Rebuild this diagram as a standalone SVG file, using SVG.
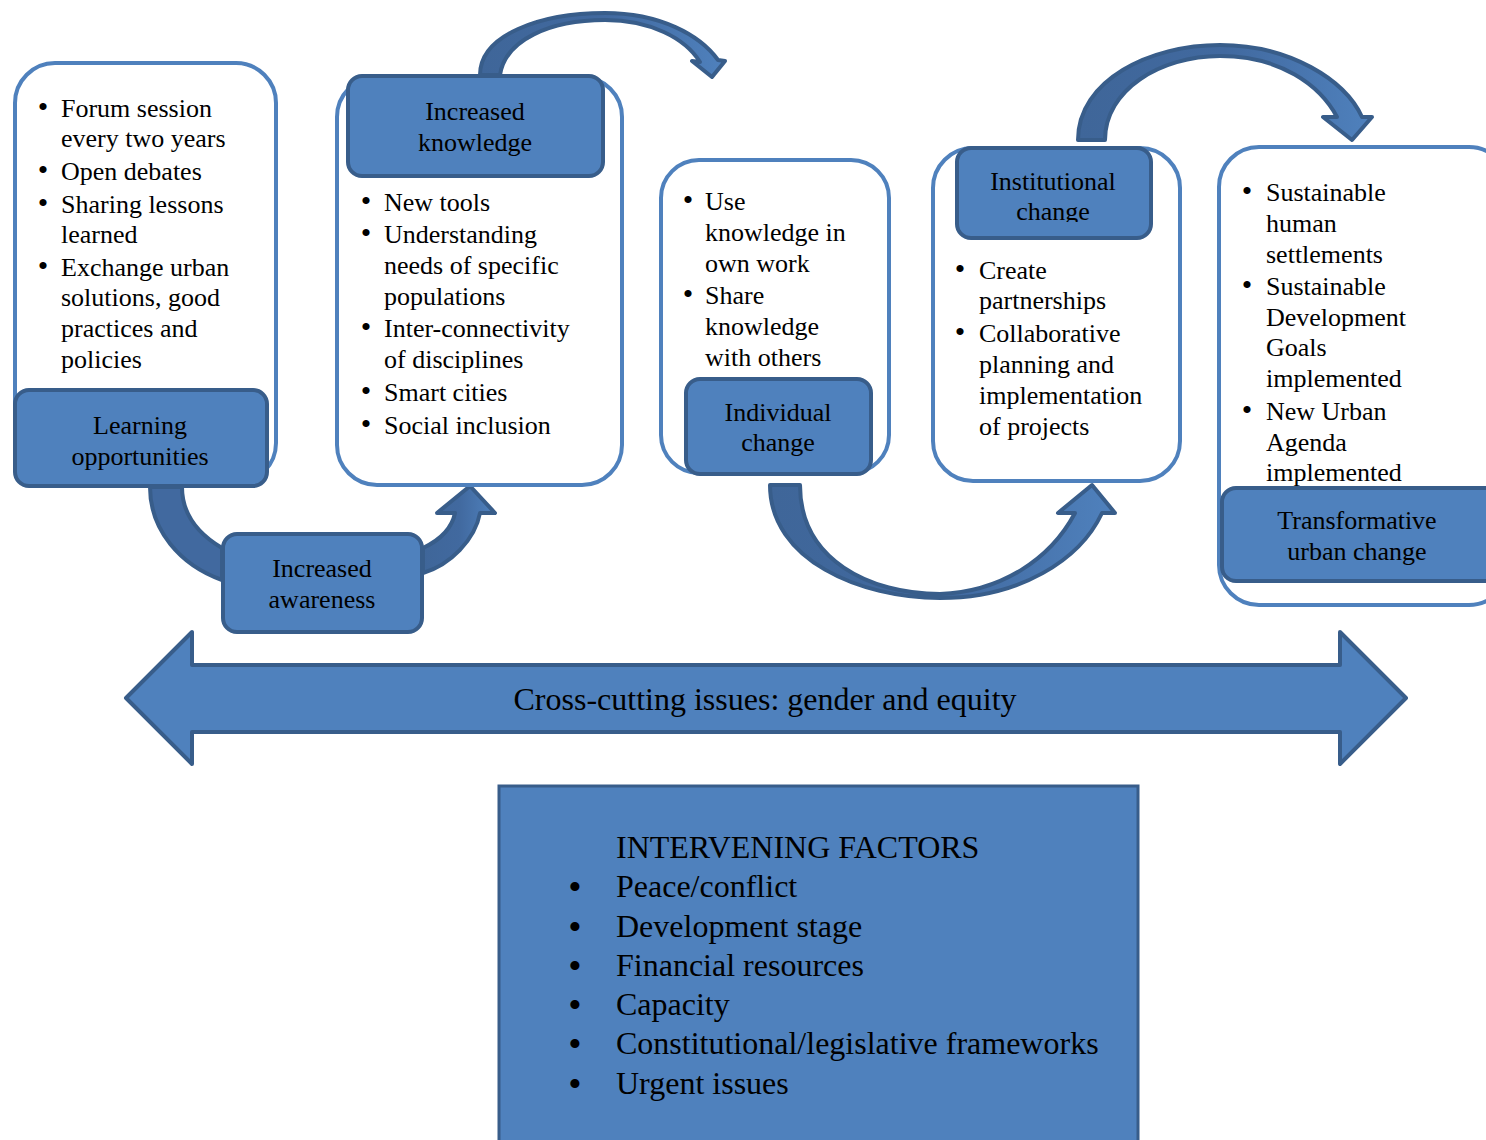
<svg xmlns="http://www.w3.org/2000/svg" width="1486" height="1140" viewBox="0 0 1486 1140">
<style>
.wb{fill:#fff;stroke:#4F81BD;stroke-width:4}
.lb{fill:#4F81BD;stroke:#385D8A;stroke-width:4}
.ar{stroke:#385D8A;stroke-width:4;stroke-linejoin:round}
text{font-family:"Liberation Serif","Times New Roman",serif;fill:#000}
.t{font-size:26px}
.c{text-anchor:middle}
.big{font-size:32px}
.b{font-size:30px;text-anchor:middle}
.bb{font-size:38px;text-anchor:middle}
</style>
<defs>
<linearGradient id="gL" x1="0" y1="0" x2="1" y2="0"><stop offset="0" stop-color="#3F6699"/><stop offset="0.5" stop-color="#41699F"/><stop offset="1" stop-color="#4F81BD"/></linearGradient>
<clipPath id="clipInst"><rect x="950" y="140" width="210" height="82"/></clipPath>
</defs>
<g id="connectors">
<path class="ar" fill="#41699F" d="M150,487 C150,530 180,565 222,580 L222,548 C200,535 182,515 182,487 Z"/>
<path class="ar" fill="url(#gL)" d="M423,548 C440,540 452,528 455,513 L437,513 L470,486 L495,513 L480,513 C475,540 450,565 423,573 Z"/>
<path class="ar" fill="url(#gL)" d="M480,75 C480,35 540,13 605,13 C660,13 700,35 718,60 L725,61 L712,77 L692,61 L700,62 C685,38 650,20 605,20 C550,20 505,40 500,75 Z"/>
<path class="ar" fill="url(#gL)" d="M770,485 C770,560 860,598 940,598 C1020,598 1080,560 1102,513 L1115,513 L1092,485 L1058,513 L1075,513 C1050,560 1000,592 940,594 C870,594 800,560 800,485 Z"/>
<path class="ar" fill="url(#gL)" d="M1078,140 C1078,80 1150,45 1220,45 C1290,45 1345,80 1362,117 L1372,117 L1352,140 L1323,117 L1337,117 C1320,85 1280,56 1220,56 C1160,56 1105,90 1105,140 Z"/>
</g>
<g id="learning">
<rect class="wb" x="15" y="63" width="261" height="420" rx="40"/>
<g class="t">
<text class="b" x="43" y="117">•</text><text x="61" y="117">Forum session</text>
<text x="61" y="147">every two years</text>
<text class="b" x="43" y="180">•</text><text x="61" y="180">Open debates</text>
<text class="b" x="43" y="213">•</text><text x="61" y="213">Sharing lessons</text>
<text x="61" y="243">learned</text>
<text class="b" x="43" y="276">•</text><text x="61" y="276">Exchange urban</text>
<text x="61" y="306">solutions, good</text>
<text x="61" y="337">practices and</text>
<text x="61" y="368">policies</text>
</g>
<rect class="lb" x="15" y="390" width="252" height="96" rx="14"/>
<text class="t c" x="140" y="434">Learning</text>
<text class="t c" x="140" y="465">opportunities</text>
</g>
<g id="awareness">
<rect class="lb" x="223" y="534" width="199" height="98" rx="14"/>
<text class="t c" x="322" y="577">Increased</text>
<text class="t c" x="322" y="608">awareness</text>
</g>
<g id="knowledge">
<rect class="wb" x="337" y="77" width="285" height="408" rx="40"/>
<rect class="lb" x="348" y="76" width="255" height="100" rx="14"/>
<text class="t c" x="475" y="120">Increased</text>
<text class="t c" x="475" y="151">knowledge</text>
<g class="t">
<text class="b" x="366" y="211">•</text><text x="384" y="211">New tools</text>
<text class="b" x="366" y="243">•</text><text x="384" y="243">Understanding</text>
<text x="384" y="274">needs of specific</text>
<text x="384" y="305">populations</text>
<text class="b" x="366" y="337">•</text><text x="384" y="337">Inter-connectivity</text>
<text x="384" y="368">of disciplines</text>
<text class="b" x="366" y="401">•</text><text x="384" y="401">Smart cities</text>
<text class="b" x="366" y="434">•</text><text x="384" y="434">Social inclusion</text>
</g>
</g>
<g id="individual">
<rect class="wb" x="661" y="160" width="228" height="313" rx="38"/>
<g class="t">
<text class="b" x="688" y="210">•</text><text x="705" y="210">Use</text>
<text x="705" y="241">knowledge in</text>
<text x="705" y="272">own work</text>
<text class="b" x="688" y="304">•</text><text x="705" y="304">Share</text>
<text x="705" y="335">knowledge</text>
<text x="705" y="366">with others</text>
</g>
<rect class="lb" x="686" y="379" width="185" height="95" rx="14"/>
<text class="t c" x="778" y="421">Individual</text>
<text class="t c" x="778" y="451">change</text>
</g>
<g id="institutional">
<rect class="wb" x="933" y="148" width="247" height="333" rx="40"/>
<rect class="lb" x="957" y="148" width="194" height="90" rx="14"/>
<g clip-path="url(#clipInst)">
<text class="t c" x="1053" y="190">Institutional</text>
<text class="t c" x="1053" y="220">change</text>
</g>
<g class="t">
<text class="b" x="960" y="279">•</text><text x="979" y="279">Create</text>
<text x="979" y="309">partnerships</text>
<text class="b" x="960" y="342">•</text><text x="979" y="342">Collaborative</text>
<text x="979" y="373">planning and</text>
<text x="979" y="404">implementation</text>
<text x="979" y="435">of projects</text>
</g>
</g>
<g id="transformative">
<rect class="wb" x="1219" y="147" width="290" height="458" rx="40"/>
<g class="t">
<text class="b" x="1247" y="201">•</text><text x="1266" y="201">Sustainable</text>
<text x="1266" y="232">human</text>
<text x="1266" y="263">settlements</text>
<text class="b" x="1247" y="295">•</text><text x="1266" y="295">Sustainable</text>
<text x="1266" y="326">Development</text>
<text x="1266" y="356">Goals</text>
<text x="1266" y="387">implemented</text>
<text class="b" x="1247" y="420">•</text><text x="1266" y="420">New Urban</text>
<text x="1266" y="451">Agenda</text>
<text x="1266" y="481">implemented</text>
</g>
<rect class="lb" x="1222" y="488" width="284" height="93" rx="14"/>
<text class="t c" x="1357" y="529">Transformative</text>
<text class="t c" x="1357" y="560">urban change</text>
</g>
<g id="crosscutting">
<polygon class="ar" fill="#4F81BD" points="126,698 192,632 192,665 1340,665 1340,632 1406,698 1340,764 1340,732 192,732 192,764"/>
<text class="big c" x="765" y="710">Cross-cutting issues: gender and equity</text>
</g>
<g id="intervening">
<rect x="499" y="786" width="639" height="370" fill="#4F81BD" stroke="#385D8A" stroke-width="3"/>
<g class="big">
<text x="616" y="858">INTERVENING FACTORS</text>
<text class="bb" x="575" y="900">•</text><text x="616" y="897">Peace/conflict</text>
<text class="bb" x="575" y="940">•</text><text x="616" y="937">Development stage</text>
<text class="bb" x="575" y="979">•</text><text x="616" y="976">Financial resources</text>
<text class="bb" x="575" y="1018">•</text><text x="616" y="1015">Capacity</text>
<text class="bb" x="575" y="1057">•</text><text x="616" y="1054">Constitutional/legislative frameworks</text>
<text class="bb" x="575" y="1097">•</text><text x="616" y="1094">Urgent issues</text>
</g>
</g>
</svg>
